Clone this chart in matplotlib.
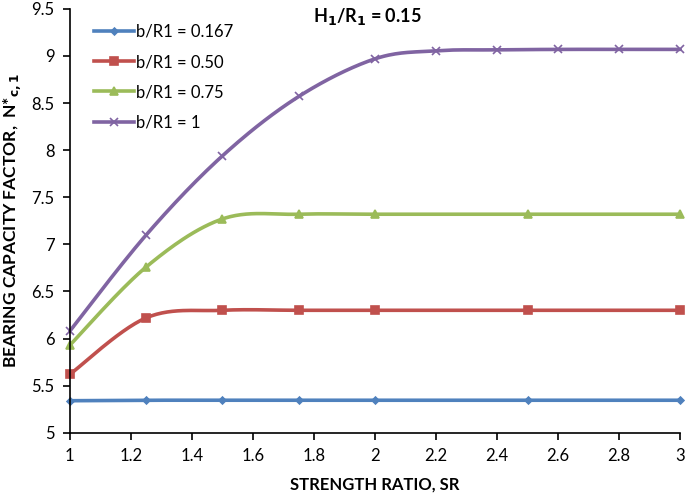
import numpy as np
import matplotlib.pyplot as plt

plt.rcParams['font.family'] = ['Lato', 'DejaVu Sans']

# strength ratio values
sr = [1, 1.25, 1.5, 1.75, 2, 2.5, 3]
sr_b1 = [1, 1.25, 1.5, 1.75, 2, 2.2, 2.4, 2.6, 2.8, 3]

# bearing capacity factor for each b/R1
n_0167 = [5.34, 5.345, 5.345, 5.345, 5.345, 5.345, 5.345]
n_050 = [5.62, 6.22, 6.30, 6.30, 6.30, 6.30, 6.30]
n_075 = [5.93, 6.76, 7.27, 7.32, 7.32, 7.32, 7.32]
n_1 = [6.08, 7.10, 7.94, 8.57, 8.97, 9.055, 9.065, 9.07, 9.07, 9.07]

labels = ['b/R1 = 0.167', 'b/R1 = 0.50', 'b/R1 = 0.75', 'b/R1 = 1']
colors = ['#4F81BD', '#C0504D', '#9BBB59', '#8064A2']
markers = ['D', 's', '^', 'x']
msizes = [3.5, 6, 5.5, 5.5]


# excel-like smoothed line (catmull-rom bezier)
def smooth(x, y, n=30):
    p = np.column_stack([x, y]).astype(float)
    pts = np.vstack([p[0], p, p[-1]])
    out = []
    t = np.linspace(0, 1, n)[:, None]
    for i in range(1, len(pts) - 2):
        p0, p1, p2, p3 = pts[i - 1], pts[i], pts[i + 1], pts[i + 2]
        c1 = p1 + (p2 - p0) / 6
        c2 = p2 - (p3 - p1) / 6
        seg = (1 - t)**3 * p1 + 3 * (1 - t)**2 * t * c1 + 3 * (1 - t) * t**2 * c2 + t**3 * p2
        out.append(seg)
    out = np.vstack(out)
    return out[:, 0], out[:, 1]


fig, ax = plt.subplots(figsize=(6.85, 4.94), dpi=100)

series = [(sr, n_0167), (sr, n_050), (sr, n_075), (sr_b1, n_1)]
for (xs, ys), lab, c, m, ms in zip(series, labels, colors, markers, msizes):
    sx, sy = smooth(xs, ys)
    ax.plot(sx, sy, color=c, lw=2.6, solid_capstyle='round', clip_on=False)
    ax.plot(xs, ys, linestyle='none', marker=m, color=c, ms=ms, mew=1.2, clip_on=False)
    ax.plot([], [], color=c, lw=2.6, marker=m, ms=ms, mew=1.2, label=lab)

ax.set_xlim(1, 3)
ax.set_ylim(5, 9.5)
ax.set_xticks(np.arange(1, 3.01, 0.2))
ax.set_xticklabels(['1', '1.2', '1.4', '1.6', '1.8', '2', '2.2', '2.4', '2.6', '2.8', '3'])
ax.set_yticks(np.arange(5, 9.51, 0.5))
ax.set_yticklabels(['5', '5.5', '6', '6.5', '7', '7.5', '8', '8.5', '9', '9.5'])
ax.tick_params(labelsize=12, direction='out', length=5, width=1.2, pad=6)
ax.spines['top'].set_visible(False)
ax.spines['right'].set_visible(False)
ax.spines['left'].set_linewidth(1.2)
ax.spines['bottom'].set_linewidth(1.2)

ax.set_xlabel('STRENGTH RATIO, SR', fontsize=12, fontweight='bold', labelpad=9)
ax.set_ylabel('BEARING CAPACITY FACTOR,  N*$_{\\mathbf{c,1}}$', fontsize=12.5,
              fontweight='bold', labelpad=6)
ax.text(0.487, 0.982, 'H$_{\\mathbf{1}}$/R$_{\\mathbf{1}}$ = 0.15', transform=ax.transAxes,
        fontsize=13, fontweight='bold', ha='center', va='center')

ax.legend(loc='upper left', bbox_to_anchor=(0.015, 1.0), frameon=False, fontsize=12,
          handlelength=2.4, handletextpad=0.1, labelspacing=0.85)

fig.subplots_adjust(left=0.102, right=0.993, top=0.982, bottom=0.124)
fig.savefig('out.png', dpi=100)
